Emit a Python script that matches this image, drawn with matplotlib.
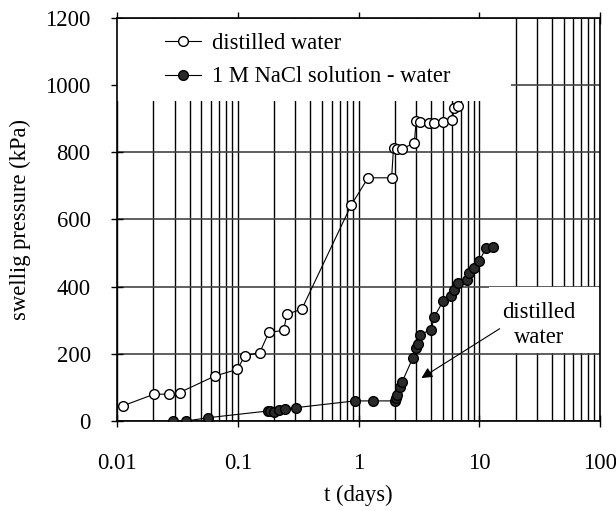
import matplotlib
matplotlib.use("Agg")
import matplotlib.pyplot as plt
from matplotlib.patches import Rectangle
from matplotlib.ticker import LogLocator, NullFormatter

plt.rcParams['font.family'] = ['Liberation Serif', 'DejaVu Serif']

# distilled water series
dw_t = [0.0111, 0.0203, 0.027, 0.033, 0.0646, 0.0994, 0.114, 0.152, 0.181, 0.24,
        0.255, 0.339, 0.87, 1.2, 1.88, 1.95, 2.1, 2.3, 2.9, 3.0, 3.2, 3.85, 4.25,
        5.0, 6.0, 6.2, 6.7]
dw_p = [45, 80, 80, 85, 134, 154, 194, 204, 264, 270, 318, 333, 643, 724, 724,
        814, 811, 811, 827, 893, 889, 887, 887, 890, 896, 933, 938]

# 1 M NaCl solution - water series
na_t = [0.0289, 0.0372, 0.0569, 0.178, 0.184, 0.20, 0.22, 0.245, 0.305, 0.93,
        1.32, 2.0, 2.05, 2.1, 2.2, 2.3, 2.81, 3.0, 3.1, 3.2, 4.0, 4.25, 5.0, 5.8,
        6.2, 6.7, 7.9, 8.2, 9.0, 10.0, 11.4, 13.0]
na_p = [0, 0, 10, 30, 30, 28, 32, 37, 40, 60, 60, 60, 68, 78, 102, 117, 187, 217,
        228, 257, 272, 311, 356, 371, 391, 411, 421, 441, 456, 476, 516, 518]

y_ticks = [0, 200, 400, 600, 800, 1000, 1200]
x_ticks = [0.01, 0.1, 1, 10, 100]
x_ticklabels = ['0.01', '0.1', '1', '10', '100']
series_labels = ['distilled water', '1 M NaCl solution - water']

FS = 16.3

fig = plt.figure(figsize=(6.16, 5.11), dpi=100)
ax = fig.add_axes([0.19, 0.176, 0.784, 0.789])

ax.set_xscale('log')
ax.set_xlim(0.01, 100)
ax.set_ylim(0, 1200)

ax.set_xticks(x_ticks)
ax.set_xticklabels(x_ticklabels)
ax.xaxis.set_minor_locator(LogLocator(base=10, subs=range(2, 10)))
ax.xaxis.set_minor_formatter(NullFormatter())
ax.set_yticks(y_ticks)

ax.grid(True, axis='x', which='both', color='black', linewidth=1.0)
ax.grid(True, axis='y', which='major', color='#444444', linewidth=1.2)

ax.tick_params(axis='both', which='major', direction='inout', length=8,
               width=1.0, labelsize=FS, colors='black')
ax.tick_params(axis='x', which='major', pad=19)
ax.tick_params(axis='y', which='major', pad=15)
ax.tick_params(axis='x', which='minor', length=0)
ax.tick_params(axis='x', which='both', top=True)
ax.tick_params(axis='x', which='minor', top=True, direction='in', length=5)

for s in ax.spines.values():
    s.set_linewidth(1.2)
    s.set_color('black')

# white areas hiding the grid (legend area, annotation area)
ax.add_patch(Rectangle((0.0, 0.795), 0.815, 0.203, transform=ax.transAxes,
                       facecolor='white', edgecolor='none', zorder=1.8))
ax.add_patch(Rectangle((0.77, 0.1685), 0.228, 0.163, transform=ax.transAxes,
                       facecolor='white', edgecolor='none', zorder=1.8))

ax.plot(dw_t, dw_p, '-', color='black', linewidth=0.8, marker='o',
        markersize=7.0, markerfacecolor='white', markeredgecolor='black',
        markeredgewidth=1.0, label=series_labels[0], zorder=3)
ax.plot(na_t, na_p, '-', color='black', linewidth=0.8, marker='o',
        markersize=7.0, markerfacecolor='#2a2a2a', markeredgecolor='black',
        markeredgewidth=1.0, label=series_labels[1], zorder=3)

leg = ax.legend(loc='upper left', bbox_to_anchor=(0.08, 0.985), frameon=False,
                fontsize=FS, handlelength=1.6, handletextpad=0.5,
                labelspacing=0.55, borderaxespad=0)
leg.set_zorder(5)

ax.annotate('distilled\nwater', xy=(3.32, 128), xytext=(31.3, 287),
            ha='center', va='center', fontsize=FS, linespacing=1.25,
            arrowprops=dict(arrowstyle='-|>', color='black', lw=0.8,
                            mutation_scale=16, shrinkA=0, shrinkB=0,
                            relpos=(0.0, 0.45)),
            zorder=4)

ax.set_xlabel('t (days)', fontsize=FS, labelpad=8)
ax.set_ylabel('swellig pressure (kPa)', fontsize=FS, labelpad=10)

fig.savefig('out.png', dpi=100)
